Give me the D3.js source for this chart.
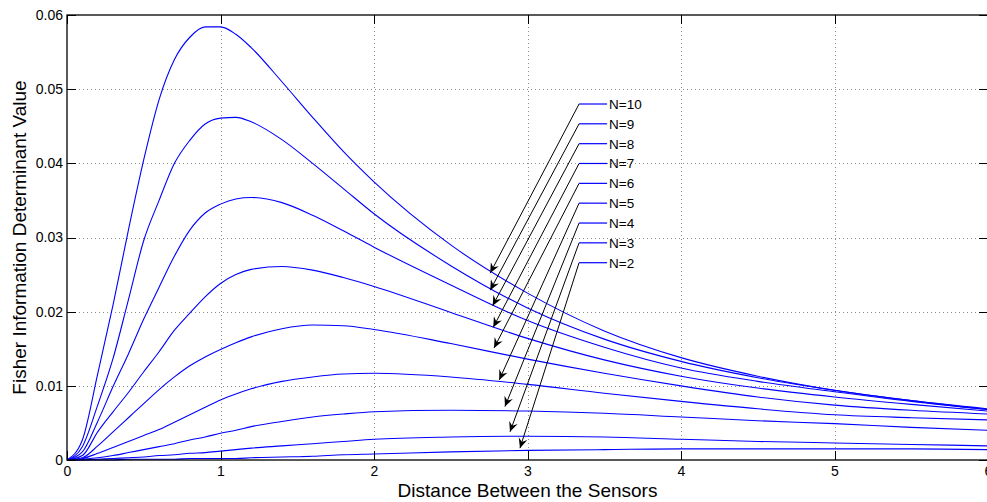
<!DOCTYPE html>
<html>
<head>
<meta charset="utf-8">
<script src="https://cdn.jsdelivr.net/npm/d3@7"></script>
<style>
  html, body { margin: 0; padding: 0; background: #fff; overflow: hidden; }
  .svg { display: block; font-family: "Liberation Sans", Arial, Helvetica, sans-serif; }
  .grid line { stroke: #8c8c8c; stroke-dasharray: 1,3; shape-rendering: crispEdges; }
  .axis path { display: none; }
  .axis line { stroke: #000; shape-rendering: crispEdges; }
  .axis text { font-size: 14px; fill: #000; }
</style>
</head>
<body>
<svg class="svg"></svg>
<script>
// distance between the sensors (x) shared by every curve
const distances = [0, 0.1, 0.2, 0.3, 0.4, 0.5, 0.6, 0.7, 0.8, 0.9, 1.0, 1.1, 1.2, 1.4, 1.6, 1.8, 2.0, 2.5, 3.0, 3.5, 4.0, 4.5, 5.0, 5.5, 6.0];

const seriesNames = ['N=10', 'N=9', 'N=8', 'N=7', 'N=6', 'N=5', 'N=4', 'N=3', 'N=2'];

const fisherN10 = [0, 0.0027, 0.0116, 0.0209, 0.0310, 0.0405, 0.0486, 0.0540, 0.0570, 0.0584, 0.0584, 0.0574, 0.0556, 0.0510, 0.0462, 0.0416, 0.0375, 0.0290, 0.0225, 0.0174, 0.0138, 0.0113, 0.0094, 0.0080, 0.0068];
const fisherN9  = [0, 0.0018, 0.0074, 0.0137, 0.0216, 0.0296, 0.0350, 0.0400, 0.0431, 0.0453, 0.0461, 0.0462, 0.0456, 0.0432, 0.0400, 0.0366, 0.0332, 0.0262, 0.0205, 0.0163, 0.0133, 0.0111, 0.0094, 0.0080, 0.0069];
const fisherN8  = [0, 0.0011, 0.0052, 0.0099, 0.0143, 0.0190, 0.0233, 0.0275, 0.0310, 0.0333, 0.0345, 0.0352, 0.0354, 0.0347, 0.0330, 0.0309, 0.0287, 0.0236, 0.0188, 0.0152, 0.0124, 0.0106, 0.0092, 0.0079, 0.0068];
const fisherN7  = [0, 0.0006, 0.0038, 0.0065, 0.0091, 0.0119, 0.0146, 0.0175, 0.0198, 0.0220, 0.0238, 0.0250, 0.0257, 0.0261, 0.0256, 0.0246, 0.0234, 0.0199, 0.0164, 0.0135, 0.0113, 0.0097, 0.0085, 0.0075, 0.0066];
const fisherN6  = [0, 0.0003, 0.0019, 0.0038, 0.0057, 0.0076, 0.0095, 0.0112, 0.0127, 0.0139, 0.0149, 0.0158, 0.0166, 0.0177, 0.0182, 0.0181, 0.0176, 0.0157, 0.0136, 0.0117, 0.0100, 0.0085, 0.0074, 0.0067, 0.0062];
const fisherN5  = [0, 0.0002, 0.0009, 0.0017, 0.0025, 0.0033, 0.0041, 0.0051, 0.0061, 0.0071, 0.0081, 0.0089, 0.0096, 0.0106, 0.0112, 0.0116, 0.0117, 0.0112, 0.0102, 0.0090, 0.0079, 0.0069, 0.0061, 0.0057, 0.0054];
const fisherN4  = [0, 0.0001, 0.0003, 0.0006, 0.0010, 0.0014, 0.0018, 0.0022, 0.0027, 0.0031, 0.0036, 0.0040, 0.0045, 0.0052, 0.0058, 0.0062, 0.0065, 0.0067, 0.0066, 0.0063, 0.0058, 0.0053, 0.0049, 0.0044, 0.0040];
const fisherN3  = [0, 0.0000, 0.0001, 0.0002, 0.0003, 0.0004, 0.0006, 0.0007, 0.0009, 0.0010, 0.0012, 0.0014, 0.0016, 0.0019, 0.0022, 0.0025, 0.0028, 0.0031, 0.0032, 0.0031, 0.0028, 0.0025, 0.0023, 0.0021, 0.0019];
const fisherN2  = [0, 0.0000, 0.0000, 0.0000, 0.0001, 0.0001, 0.0001, 0.0001, 0.0002, 0.0002, 0.0002, 0.0002, 0.0003, 0.0004, 0.0005, 0.0007, 0.0008, 0.0011, 0.0013, 0.0014, 0.0015, 0.0015, 0.0015, 0.0015, 0.0014];

const seriesValues = [fisherN10, fisherN9, fisherN8, fisherN7, fisherN6, fisherN5, fisherN4, fisherN3, fisherN2];

// axis ticks
const xTicks = [0, 1, 2, 3, 4, 5, 6];
const xTickLabels = ['0', '1', '2', '3', '4', '5', '6'];
const yTicks = [0, 0.01, 0.02, 0.03, 0.04, 0.05, 0.06];
const yTickLabels = ['0', '0.01', '0.02', '0.03', '0.04', '0.05', '0.06'];

// text arrows: where each label sits and where its arrow points (data units)
const labelTailX = 3.336;
const labelY = [0.0480, 0.04533, 0.04265, 0.03998, 0.0373, 0.03463, 0.03195, 0.02928, 0.0266];
const arrowTipX = [2.757, 2.757, 2.773, 2.777, 2.782, 2.816, 2.853, 2.886, 2.951];
const arrowTipY = [0.0252, 0.0229, 0.0208, 0.0179, 0.0151, 0.0108, 0.0072, 0.0038, 0.0016];

function drawFisherChart () {
    const width = 987;
    const height = 502;
    const margin = { top: 15, right: -1, bottom: 42, left: 67 };

    const svg = d3.select('.svg')
        .attr('width', width)
        .attr('height', height);

    const xScale = d3.scaleLinear()
        .domain([0, 6])
        .range([margin.left, width - margin.right]);
    const yScale = d3.scaleLinear()
        .domain([0, 0.06])
        .range([height - margin.bottom, margin.top]);

    const x0 = xScale(0), x1 = xScale(6);
    const y0 = yScale(0), y1 = yScale(0.06);

    /* GRID */
    const grid = svg.append('g').attr('class', 'grid');
    grid.selectAll('.gx')
        .data(xTicks.slice(1, -1)).enter()
        .append('line')
        .attr('x1', d => Math.round(xScale(d)) + 0.5)
        .attr('x2', d => Math.round(xScale(d)) + 0.5)
        .attr('y1', y1)
        .attr('y2', y0);
    grid.selectAll('.gy')
        .data(yTicks.slice(1, -1)).enter()
        .append('line')
        .attr('x1', x0)
        .attr('x2', x1)
        .attr('y1', d => Math.round(yScale(d)) + 0.5)
        .attr('y2', d => Math.round(yScale(d)) + 0.5);

    /* CURVES */
    const line = d3.line()
        .x((d, i) => xScale(distances[i]))
        .y(d => yScale(d))
        .curve(d3.curveMonotoneX);

    svg.append('g')
        .selectAll('path')
        .data(seriesValues).enter()
        .append('path')
        .attr('d', d => line(d))
        .attr('fill', 'none')
        .attr('stroke', '#0000ff')
        .attr('stroke-width', 1.1);

    /* AXES (ticks inside, on all four sides) */
    const tickLen = 9;
    const xAxis = d3.axisBottom(xScale)
        .tickValues(xTicks)
        .tickFormat((d, i) => xTickLabels[i])
        .tickSizeInner(-tickLen)
        .tickSizeOuter(0)
        .tickPadding(6);
    const yAxis = d3.axisLeft(yScale)
        .tickValues(yTicks)
        .tickFormat((d, i) => yTickLabels[i])
        .tickSizeInner(-tickLen)
        .tickSizeOuter(0)
        .tickPadding(4);

    svg.append('g')
        .attr('class', 'axis')
        .attr('transform', `translate(0, ${y0})`)
        .call(xAxis);
    svg.append('g')
        .attr('class', 'axis')
        .attr('transform', `translate(${x0}, 0)`)
        .call(yAxis);
    svg.append('g')
        .attr('class', 'axis')
        .attr('transform', `translate(0, ${y1})`)
        .call(d3.axisTop(xScale).tickValues(xTicks).tickFormat('').tickSizeInner(-tickLen).tickSizeOuter(0));
    svg.append('g')
        .attr('class', 'axis')
        .attr('transform', `translate(${x1}, 0)`)
        .call(d3.axisRight(yScale).tickValues(yTicks).tickFormat('').tickSizeInner(-tickLen).tickSizeOuter(0));

    // box
    svg.append('rect')
        .attr('x', x0)
        .attr('y', y1)
        .attr('width', x1 - x0)
        .attr('height', y0 - y1)
        .attr('fill', 'none')
        .attr('stroke', '#000')
        .attr('stroke-width', 1.3);

    /* LABELS */
    svg.append('text')
        .attr('x', (x0 + x1) / 2)
        .attr('y', 497)
        .attr('text-anchor', 'middle')
        .style('font-size', '19px')
        .text('Distance Between the Sensors');

    svg.append('text')
        .attr('transform', `translate(26, ${(y0 + y1) / 2}) rotate(-90)`)
        .attr('text-anchor', 'middle')
        .style('font-size', '19px')
        .text('Fisher Information Determinant Value');

    /* TEXT ARROWS */
    svg.append('defs').append('marker')
        .attr('id', 'head')
        .attr('viewBox', '-11 -5 12 10')
        .attr('refX', 0)
        .attr('refY', 0)
        .attr('markerUnits', 'userSpaceOnUse')
        .attr('markerWidth', 12)
        .attr('markerHeight', 10)
        .attr('orient', 'auto')
        .append('path')
        .attr('d', 'M0,0 L-10,-4.5 L-6.5,0 L-10,4.5 Z')
        .attr('fill', '#000');

    const notes = svg.append('g');
    seriesNames.forEach((name, i) => {
        const tx = xScale(labelTailX);
        const ty = yScale(labelY[i]);
        notes.append('line')
            .attr('x1', tx)
            .attr('y1', ty)
            .attr('x2', xScale(arrowTipX[i]))
            .attr('y2', yScale(arrowTipY[i]))
            .attr('stroke', '#000')
            .attr('stroke-width', 1)
            .attr('marker-end', 'url(#head)');
        notes.append('line')
            .attr('x1', tx)
            .attr('x2', tx + 28)
            .attr('y1', ty)
            .attr('y2', ty)
            .attr('stroke', '#0000ff')
            .attr('stroke-width', 1.2);
        notes.append('text')
            .attr('x', tx + 30)
            .attr('y', ty + 5)
            .style('font-size', '13.5px')
            .text(name);
    });
}

document.addEventListener('DOMContentLoaded', function () {
    drawFisherChart();
});
</script>
</body>
</html>
